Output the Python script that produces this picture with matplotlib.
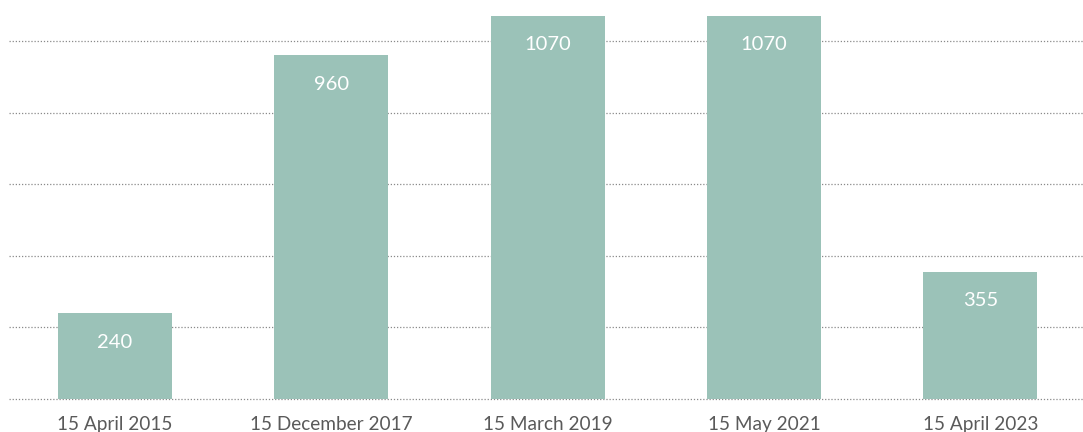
import matplotlib
matplotlib.use("Agg")
import matplotlib.pyplot as plt

categories = ["15 April 2015", "15 December 2017", "15 March 2019", "15 May 2021", "15 April 2023"]
values = [240, 960, 1070, 1070, 355]
bar_color = "#9BC2B8"

plt.rcParams['font.family'] = ['Lato', 'DejaVu Sans']

W, H = 1083, 432
fig = plt.figure(figsize=(W/100, H/100), dpi=100)
left, right, bottom, top = 9, 1083, 399, 16
ax = fig.add_axes([left/W, 1 - bottom/H, (right-left)/W, (bottom-top)/H])

x = list(range(len(categories)))
bars = ax.bar(x, values, width=0.527, color=bar_color, zorder=2)
ax.set_xlim(-0.49, 4.475)
ax.set_ylim(0, 1070)
ax.set_yticks([0, 200, 400, 600, 800, 1000])
ax.yaxis.grid(True, linestyle=(0, (1, 1.5)), color="#8a8a8a", linewidth=0.9, zorder=1)
for gl in ax.get_ygridlines():
    gl.set_clip_on(False)
ax.tick_params(axis='y', left=False, labelleft=False)
ax.tick_params(axis='x', bottom=False, labelsize=13.7, colors="#5a5a5a", pad=9)
ax.set_xticks(x)
ax.set_xticklabels(categories)
for s in ax.spines.values():
    s.set_visible(False)

for xi, v in zip(x, values):
    ax.annotate(str(v), (xi, v), xytext=(0, -29), textcoords='offset pixels',
                ha='center', va='center', color='white', fontsize=14.5)

fig.savefig("out.png", dpi=100)
